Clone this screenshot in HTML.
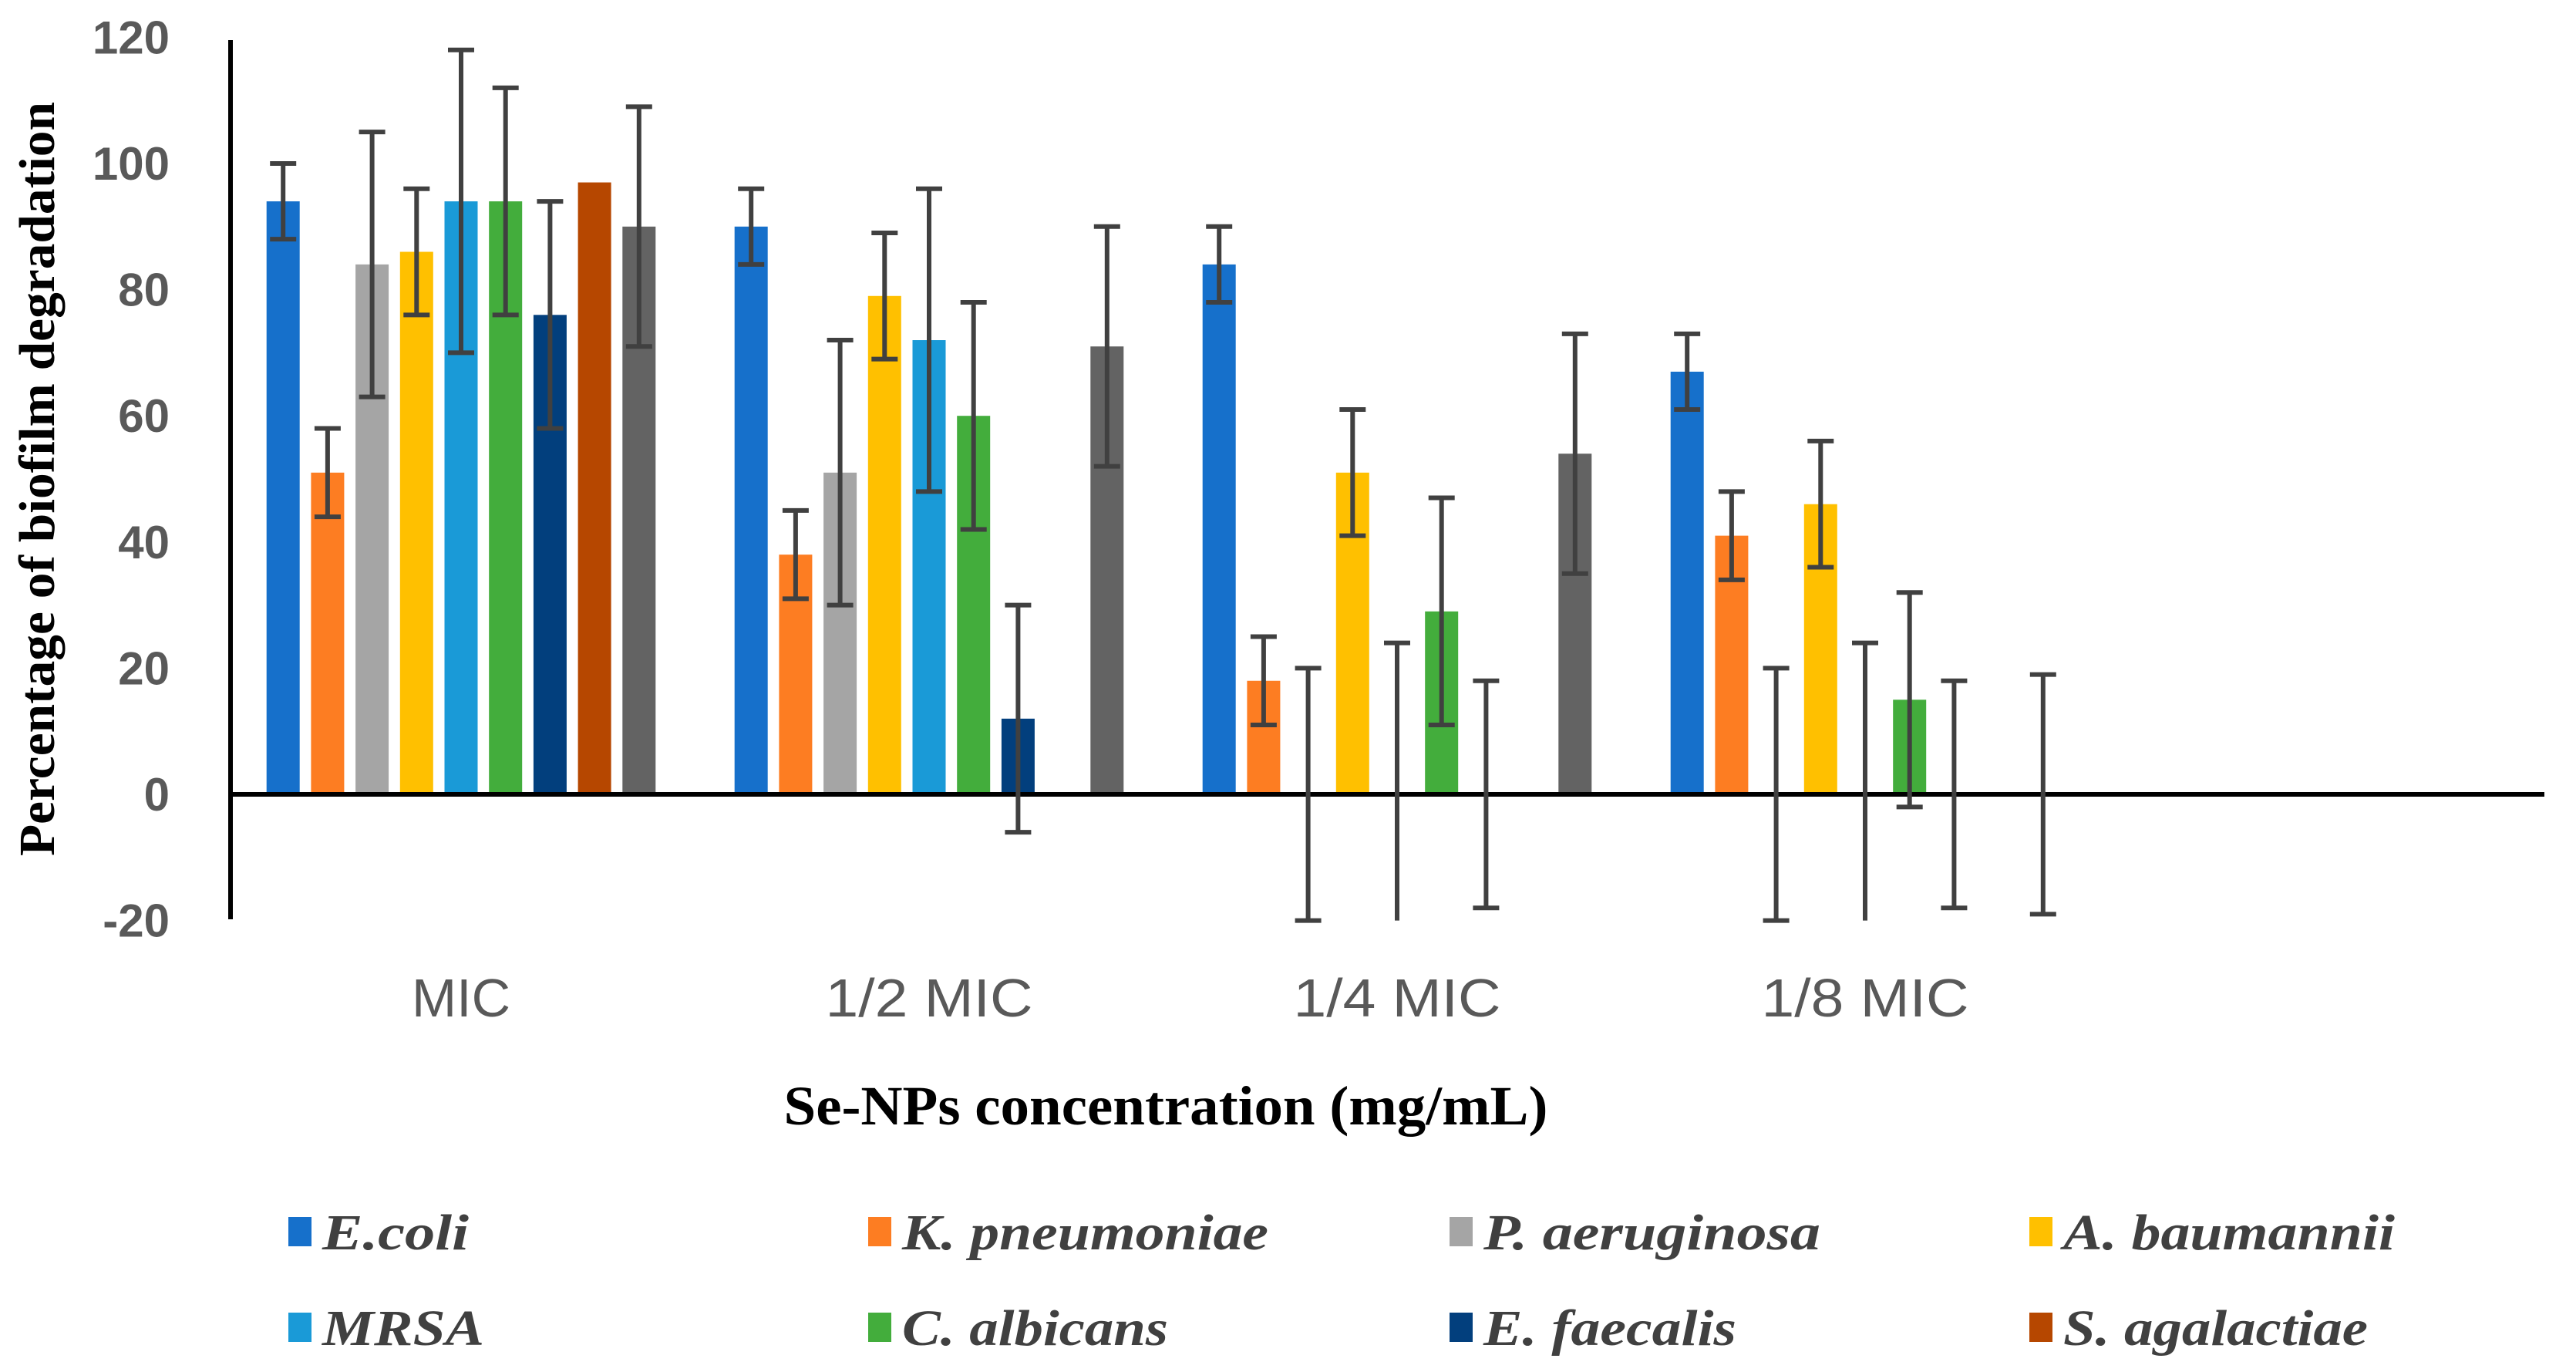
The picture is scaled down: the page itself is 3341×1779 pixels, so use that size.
<!DOCTYPE html>
<html><head><meta charset="utf-8"><style>
html,body{margin:0;padding:0;background:#fff}
svg{display:block}
</style></head><body>
<svg id="chart" width="3341" height="1779" viewBox="0 0 3341 1779" xmlns="http://www.w3.org/2000/svg">
<g id="plot"></g>
<text transform="translate(70,621) rotate(-90)" text-anchor="middle" font-family="Liberation Serif, serif" font-weight="bold" font-size="66" fill="#000" textLength="978" lengthAdjust="spacingAndGlyphs">Percentage of biofilm degradation</text>
<text x="1512" y="1458" text-anchor="middle" font-family="Liberation Serif, serif" font-weight="bold" font-size="72" fill="#000" textLength="991" lengthAdjust="spacingAndGlyphs">Se-NPs concentration (mg/mL)</text>
<g id="legend"></g>
</svg>
<script>
const categories = ["MIC","1/2 MIC","1/4 MIC","1/8 MIC"];
const seriesNames = ["E.coli","K. pneumoniae","P. aeruginosa","A. baumannii","MRSA","C. albicans","E. faecalis","S. agalactiae",""];
const ecoli = [94,90,84,67];
const kpneu = [51,38,18,41];
const paer = [84,51,0,0];
const abau = [86,79,51,46];
const mrsa = [94,72,0,0];
const calb = [94,60,29,15];
const efae = [76,12,0,0];
const saga = [97,0,0,0];
const other = [90,71,54,0];
const errEcoli = [6,6,6,6];
const errKpneu = [7,7,7,7];
const errPaer = [21,21,20,20];
const errAbau = [10,10,10,10];
const errMrsa = [24,24,24,24];
const errCalb = [18,18,18,17];
const errEfae = [18,18,18,18];
const errSaga = [0,0,0,0];
const errOther = [19,19,19,19];
const yTicks = [-20,0,20,40,60,80,100,120];

const values = [ecoli,kpneu,paer,abau,mrsa,calb,efae,saga,other];
const errs = [errEcoli,errKpneu,errPaer,errAbau,errMrsa,errCalb,errEfae,errSaga,errOther];
const colors = ["#1670cb","#fd7d22","#a5a5a5","#ffc000","#1a9ad7","#43ad3c","#023f7d","#b64700","#636363"];
const NS="http://www.w3.org/2000/svg";
const plot=document.getElementById('plot');
const y0=1030, yScale=8.18, yMin=-20;
const yPos=v=>y0-v*yScale;
const groupCenter=i=>598+i*607;
const step=57.7, bw=43;
const barX=(g,s)=>groupCenter(g)+(s-4)*step;
function mk(tag,attrs){const e=document.createElementNS(NS,tag);for(const k in attrs)e.setAttribute(k,attrs[k]);return e;}

yTicks.forEach(t=>{
  const tx=mk('text',{x:220,y:yPos(t)+21,'text-anchor':'end','font-family':'Liberation Sans, sans-serif','font-weight':'bold','font-size':'60','fill':'#595959'});
  
  
  tx.textContent=t;plot.appendChild(tx);
});
const catW=[128,269,269,269];
categories.forEach((c,i)=>{
  const tx=mk('text',{x:groupCenter(i),y:1318,'text-anchor':'middle','font-family':'Liberation Sans, sans-serif','font-size':'70','fill':'#595959','textLength':catW[i],'lengthAdjust':'spacingAndGlyphs'});
  
  
  tx.textContent=c;plot.appendChild(tx);
});
values.forEach((arr,s)=>{
  arr.forEach((v,g)=>{
    if(v>0){
      const r=mk('rect',{x:barX(g,s)-bw/2,y:yPos(v),width:bw,height:v*yScale,fill:colors[s]});
      
      
      plot.appendChild(r);
    }
  });
});
const ya=mk('line',{x1:299,y1:52,x2:299,y2:1192,stroke:'#000','stroke-width':6});


plot.appendChild(ya);
const xa=mk('line',{x1:299,y1:y0,x2:3300,y2:y0,stroke:'#000','stroke-width':6});


plot.appendChild(xa);
values.forEach((arr,s)=>{
  arr.forEach((v,g)=>{
    const e=errs[s][g]; if(!e) return;
    const x=barX(g,s);
    const top=v+e; let bot=v-e; let clipped=false;
    if(bot<yMin){bot=yMin;clipped=true;}
    const gEl=mk('g',{stroke:'#404040','stroke-width':6});
    
    
    gEl.appendChild(mk('line',{x1:x,y1:yPos(top),x2:x,y2:yPos(bot)}));
    gEl.appendChild(mk('line',{x1:x-17,y1:yPos(top),x2:x+17,y2:yPos(top)}));
    if(!clipped) gEl.appendChild(mk('line',{x1:x-17,y1:yPos(bot),x2:x+17,y2:yPos(bot)}));
    plot.appendChild(gEl);
  });
});
const leg=document.getElementById('legend');
const colX=[374,1126,1880,2632], rowY=[1598,1722];
const legW=[190,475,437,430,210,345,328,395];
seriesNames.slice(0,8).forEach((n,i)=>{
  const cx=colX[i%4], cy=rowY[Math.floor(i/4)];
  const g=mk('g',{});
  
  
  g.appendChild(mk('rect',{x:cx,y:cy-20,width:30,height:38,fill:colors[i]}));
  const t=mk('text',{x:cx+44,y:cy+22,'font-family':'Liberation Serif, serif','font-style':'italic','font-weight':'bold','font-size':'66','fill':'#404040','textLength':legW[i],'lengthAdjust':'spacingAndGlyphs'});
  t.textContent=n;g.appendChild(t);leg.appendChild(g);
});
</script>
</body></html>
